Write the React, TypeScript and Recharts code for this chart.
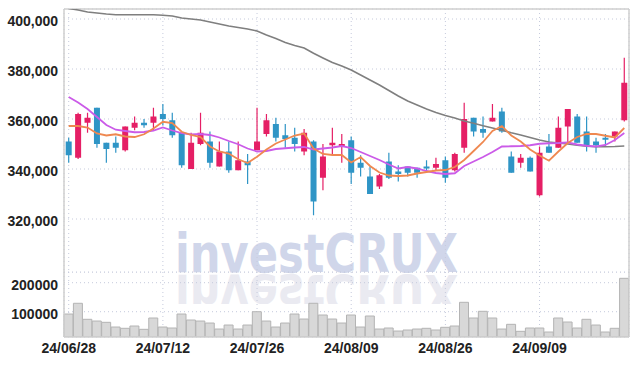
import { ComposedChart, BarChart, Bar, Line, XAxis, YAxis, CartesianGrid, ReferenceLine } from 'recharts';

// trading days shown (yy/mm/dd)
const dates = [
  '24/06/28', '24/07/01', '24/07/02', '24/07/03', '24/07/04', '24/07/05', '24/07/08', '24/07/09', '24/07/10', '24/07/11',
  '24/07/12', '24/07/15', '24/07/16', '24/07/17', '24/07/18', '24/07/19', '24/07/22', '24/07/23', '24/07/24', '24/07/25',
  '24/07/26', '24/07/29', '24/07/30', '24/07/31', '24/08/01', '24/08/02', '24/08/05', '24/08/06', '24/08/07', '24/08/08',
  '24/08/09', '24/08/12', '24/08/13', '24/08/14', '24/08/16', '24/08/19', '24/08/20', '24/08/21', '24/08/22', '24/08/23',
  '24/08/26', '24/08/27', '24/08/28', '24/08/29', '24/08/30', '24/09/02', '24/09/03', '24/09/04', '24/09/05', '24/09/06',
  '24/09/09', '24/09/10', '24/09/11', '24/09/12', '24/09/13', '24/09/19', '24/09/20', '24/09/23', '24/09/24', '24/09/25',
];

const opens = [
  351000, 344500, 358500, 364500, 350500, 350500, 347500, 356500, 358500, 358500,
  362000, 359500, 354500, 340000, 350000, 351000, 341000, 347000, 339500, 343000,
  347500, 354000, 358000, 353500, 352500, 347000, 351000, 336500, 349500, 349000,
  351500, 342500, 337000, 333000, 343000, 339000, 341000, 340500, 341000, 340500,
  343500, 339500, 348500, 360500, 356000, 359000, 363000, 345000, 342500, 344500,
  329500, 349000, 348500, 357000, 361000, 355000, 351000, 352500, 353000, 359500,
];
const highs = [
  352500, 362500, 362500, 364500, 350500, 353000, 357000, 361000, 360000, 364500,
  366000, 362500, 354500, 354500, 362500, 355000, 351000, 351000, 351000, 346000,
  364500, 362000, 360500, 358000, 356500, 356000, 351500, 350000, 356500, 354000,
  353000, 345500, 341000, 338000, 346500, 341500, 341000, 340500, 343500, 344500,
  345000, 346500, 366500, 360500, 361000, 366000, 364500, 347000, 346000, 345000,
  349000, 354000, 361000, 364000, 362000, 361000, 352500, 354000, 355000, 384500,
];
const lows = [
  342500, 344000, 354500, 348500, 342500, 346500, 347000, 355500, 356500, 355500,
  357500, 352500, 340500, 340000, 349500, 340500, 341000, 338500, 339500, 334000,
  347500, 353000, 351000, 348500, 347000, 345500, 321500, 331500, 346000, 342500,
  334000, 337000, 330000, 332000, 336000, 335000, 337000, 336500, 338500, 339500,
  334500, 339000, 346500, 353000, 352500, 359000, 354500, 338500, 340500, 339000,
  329000, 346500, 348500, 350500, 350500, 347000, 346500, 349000, 351000, 359000,
];
const closes = [
  345500, 362000, 360500, 350000, 348000, 348500, 357000, 358500, 357500, 361000,
  360000, 353500, 341500, 350500, 354500, 342500, 347000, 339500, 343500, 341500,
  351000, 359500, 352500, 352000, 350000, 354500, 327000, 345000, 350500, 350000,
  338500, 340500, 330000, 337500, 336500, 338000, 338500, 338500, 340500, 342000,
  336500, 346000, 360000, 355000, 354500, 360500, 355000, 338500, 344500, 339000,
  346500, 346500, 356500, 364000, 350500, 349500, 349500, 352000, 355000, 374500,
];

// moving averages
const ma5 = [
  357200, 357200, 356600, 354200, 353400, 353900, 353000, 352800, 353900, 356200,
  358900, 358400, 354900, 353600, 352800, 349000, 347000, 346200, 343900, 342400,
  344900, 347800, 350200, 351800, 353400, 354200, 348200, 346000, 345600, 345600,
  342600, 344800, 341200, 338600, 337400, 337200, 337400, 338200, 338800, 339400,
  339600, 340800, 343600, 347200, 350800, 355200, 357200, 353400, 351000, 347800,
  345400, 343300, 347000, 350400, 352800, 354000, 354000, 353300, 352600, 356400,
];
const ma20 = [
  368800, 366600, 364000, 360800, 357600, 355700, 355200, 354700, 354800, 355400,
  356600, 355400, 354400, 353800, 354000, 353600, 352600, 351200, 349900, 348200,
  347000, 347200, 348000, 348300, 348600, 348800, 347800, 348200, 348600, 349200,
  348400, 346800, 345200, 343600, 341800, 340200, 340800, 340200, 339200, 338400,
  338000, 338300, 341200, 343000, 344800, 346800, 349000, 349100, 349200, 349500,
  350100, 350300, 350400, 350600, 349800, 349300, 349000, 349600, 351600, 354400,
];
const ma60 = [
  404200, 403600, 402800, 402400, 402000, 401700, 401700, 401700, 401700, 401700,
  401500, 401200, 400400, 400000, 399600, 398800, 398000, 397200, 396600, 396000,
  395200, 393600, 392200, 390600, 389400, 388400, 386300, 384400, 382600, 381200,
  379600, 377600, 375600, 373600, 371400, 369200, 367200, 365600, 364000, 362600,
  361400, 360400, 359200, 358300, 357300, 356400, 355500, 354500, 353600, 352600,
  351600, 350800, 350400, 350000, 349500, 349100, 348900, 348900, 349000, 349200,
];

const volumes = [
  92000, 129000, 73800, 67900, 63400, 47200, 42800, 50700, 39300, 78300,
  47200, 43800, 92000, 71400, 67900, 61000, 40300, 54100, 40300, 54100,
  100000, 67900, 47200, 61000, 92000, 74800, 129000, 88600, 74800, 61000,
  88600, 47200, 85200, 40300, 43800, 33400, 36900, 40300, 42800, 36900,
  46200, 50700, 132400, 78300, 101400, 78300, 40300, 56500, 32400, 43800,
  43800, 30000, 78300, 64500, 43800, 73800, 54100, 30000, 42800, 215100,
];

const priceTicks = [300000, 320000, 340000, 360000, 380000, 400000];
const volumeTicks = [100000, 200000];

const UP = '#e51f65';
const DOWN = '#2f95c6';
const GRID = '#c5cadc';
const FRAME = '#cfcfcf';
const FONT = 'Liberation Sans, Arial, sans-serif';
const TICK = { fontSize: 14, fill: '#222', fontFamily: FONT, fontWeight: 'bold' as const };

const data = dates.map((date, i) => ({
  date,
  open: opens[i],
  high: highs[i],
  low: lows[i],
  close: closes[i],
  range: [lows[i], highs[i]],
  ma5: ma5[i],
  ma20: ma20[i],
  ma60: ma60[i],
  volume: volumes[i],
}));

const Candle = (props: any) => {
  const { x, y, width, height, payload } = props;
  const { open, close, high, low } = payload;
  const color = close >= open ? UP : DOWN;
  const top = Math.min(y, y + height);
  const h = Math.abs(height);
  const toY = (p: number) => top + ((high - p) / (high - low || 1)) * h;
  const cx = x + width / 2;
  const bodyTop = toY(Math.max(open, close));
  const bodyBottom = toY(Math.min(open, close));
  return (
    <g>
      <line x1={cx} x2={cx} y1={top} y2={top + h} stroke={color} strokeWidth={1.2} />
      <rect x={x} y={bodyTop} width={width} height={Math.max(bodyBottom - bodyTop, 2)} fill={color} />
    </g>
  );
};

// y tick labels sit a little under their grid line in the original
const makeYTick = (fmt: (v: number) => string) => (p: any) => (
  <text x={p.x} y={p.y + 2.5} dy="0.355em" textAnchor="end" {...TICK}>{fmt(p.payload.value)}</text>
);
const PriceTick = makeYTick((v) => v.toLocaleString('en-US'));
const VolumeTick = makeYTick((v) => String(v));

const NoTick = () => <g />;

const Watermark = () => (
  <svg width={637} height={366} style={{ position: 'absolute', left: 0, top: 0 }}>
    <defs>
      <clipPath id="wm-clip">
        <rect x={0} y={274} width={637} height={30} />
      </clipPath>
    </defs>
    <text x={175} y={272} textLength={283} lengthAdjust="spacingAndGlyphs" fontSize={53}
      fontWeight="bold" fontFamily="DejaVu Sans, sans-serif" fill="#d0d6ea">investCRUX</text>
    <g clipPath="url(#wm-clip)">
      <text x={175} y={272} textLength={283} lengthAdjust="spacingAndGlyphs" fontSize={53}
        fontWeight="bold" fontFamily="DejaVu Sans, sans-serif" fill="#eaeaf1"
        transform="translate(0 547) scale(1 -1)">investCRUX</text>
    </g>
  </svg>
);

export default function App() {
  return (
    <div style={{ position: 'absolute', left: 0, top: 0, width: 637, height: 366, background: '#fff', overflow: 'hidden' }}>
      <Watermark />
      <div style={{ position: 'absolute', left: 0, top: 0 }}>
        <ComposedChart width={637} height={273} data={data} margin={{ top: 9, right: 0, bottom: 1, left: 0 }} barCategoryGap="18%">
          <CartesianGrid stroke={GRID} strokeDasharray="1 3" />
          <XAxis dataKey="date" height={0} interval={9} tick={NoTick} tickLine={false} axisLine={{ stroke: FRAME, strokeWidth: 1.5 }} />
          <YAxis domain={[298800, 404000]} allowDataOverflow ticks={priceTicks} width={64}
            tick={PriceTick} tickSize={0} tickMargin={6}
            axisLine={{ stroke: FRAME, strokeWidth: 1.5 }} tickLine={false} />
          <YAxis yAxisId="r" orientation="right" width={8} domain={[0, 1]} tick={false} tickLine={false}
            axisLine={{ stroke: FRAME, strokeWidth: 1.5 }} />
          <ReferenceLine y={404000} stroke={FRAME} strokeWidth={1.5} />
          <Line dataKey="ma60" stroke="#7f7f7f" strokeWidth={1.6} dot={false} isAnimationActive={false} />
          <Bar dataKey="range" shape={Candle} isAnimationActive={false} />
          <Line dataKey="ma20" stroke="#cb5be8" strokeWidth={1.8} dot={false} isAnimationActive={false} />
          <Line dataKey="ma5" stroke="#ef8850" strokeWidth={1.8} dot={false} isAnimationActive={false} />
        </ComposedChart>
      </div>
      <div style={{ position: 'absolute', left: 0, top: 272 }}>
        <BarChart width={637} height={94} data={data} margin={{ top: 0, right: 0, bottom: 0, left: 0 }} barCategoryGap={0}>
          <CartesianGrid stroke={GRID} strokeDasharray="1 3" />
          <XAxis dataKey="date" height={29} interval={9} tick={TICK} tickSize={0} tickMargin={6}
            axisLine={{ stroke: FRAME, strokeWidth: 1.5 }} tickLine={false} />
          <YAxis domain={[12800, 236900]} allowDataOverflow ticks={volumeTicks} width={64} tick={VolumeTick}
            tickSize={0} tickMargin={6} axisLine={{ stroke: FRAME, strokeWidth: 1.5 }} tickLine={false} />
          <YAxis yAxisId="r" orientation="right" width={8} domain={[0, 1]} tick={false} tickLine={false}
            axisLine={{ stroke: FRAME, strokeWidth: 1.5 }} />
          <Bar dataKey="volume" fill="#d8d8d8" stroke="#b4b4b4" strokeWidth={1} isAnimationActive={false} />
        </BarChart>
      </div>
    </div>
  );
}
